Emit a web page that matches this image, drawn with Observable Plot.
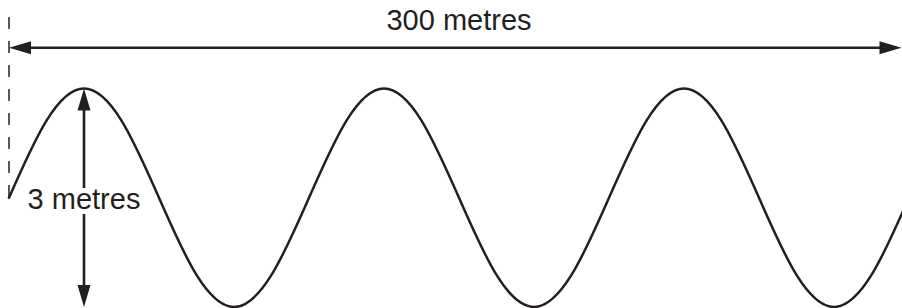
<!DOCTYPE html>
<html>
<head>
<meta charset="utf-8">
<script src="https://cdn.jsdelivr.net/npm/d3@7"></script>
<script src="https://cdn.jsdelivr.net/npm/@observablehq/plot@0.6"></script>
<style>
  html, body { margin: 0; padding: 0; background: #fff; overflow: hidden; }
  #chart { width: 902px; height: 308px; }
</style>
</head>
<body>
<div id="chart"></div>
<script>
// Wave: horizontal distance (metres) and height above mean level (metres)
const waveX = [0, 12.5, 25, 37.5, 50, 62.5, 75, 87.5, 100, 112.5, 125, 137.5, 150,
               162.5, 175, 187.5, 200, 212.5, 225, 237.5, 250, 262.5, 275, 287.5, 300];
const waveY = [0, 1.06, 1.5, 1.06, 0, -1.06, -1.5, -1.06, 0, 1.06, 1.5, 1.06, 0,
               -1.06, -1.5, -1.06, 0, 1.06, 1.5, 1.06, 0, -1.06, -1.5, -1.06, 0];

// Dimension arrows (metres)
const lengthArrowX = [0, 297.5];   // horizontal arrow ends
const lengthArrowY = 2.06;         // height of the horizontal arrow
const heightArrowX = 25;           // position of the vertical arrow (first crest)
const heightArrowY = [1.5, -1.5];  // crest and trough levels
const startLineY = [2.48, 0];      // dashed start marker

// Labels
const labelTexts = ["300 metres", "3 metres"];
const labelX = [150, 25];
const labelY = [2.3, -0.16];

const ink = "#231f20";
const font = "'Liberation Sans', Arial, Helvetica, sans-serif";

const wave = waveX.map((x, i) => ({x, y: waveY[i]}));
const labels = labelTexts.map((t, i) => ({text: t, x: labelX[i], y: labelY[i]}));

const arrows = [
  {x1: lengthArrowX[0], y1: lengthArrowY, x2: lengthArrowX[1], y2: lengthArrowY},
  {x1: heightArrowX, y1: heightArrowY[0], x2: heightArrowX, y2: heightArrowY[1]}
];
const heads = [
  {x: lengthArrowX[0], y: lengthArrowY, r: 180},
  {x: lengthArrowX[1], y: lengthArrowY, r: 0},
  {x: heightArrowX, y: heightArrowY[0], r: -90},
  {x: heightArrowX, y: heightArrowY[1], r: 90}
];

// filled arrowhead, tip at origin, pointing right
const headSymbol = {
  draw(context) {
    context.moveTo(0, 0);
    context.lineTo(-22, -6.5);
    context.lineTo(-22, 6.5);
    context.closePath();
  }
};

const chart = Plot.plot({
  width: 902,
  height: 308,
  marginTop: 0, marginRight: 0, marginBottom: 0, marginLeft: 0,
  style: {fontFamily: font, background: "#fff", color: ink},
  x: {domain: [0, 300], range: [8.5, 908.5], axis: null},
  y: {domain: [-1.5, 1.5], range: [306.5, 88], axis: null},
  marks: [
    Plot.link([{x: 0, y1: startLineY[0], y2: startLineY[1]}], {
      x1: "x", x2: "x", y1: "y1", y2: "y2",
      stroke: ink, strokeWidth: 1.5, strokeDasharray: "12,12"
    }),
    Plot.line(wave, {x: "x", y: "y", curve: "natural", stroke: ink, strokeWidth: 2.5, clip: true}),
    Plot.arrow(arrows, {
      x1: "x1", y1: "y1", x2: "x2", y2: "y2",
      stroke: ink, strokeWidth: 2.6, headLength: 0, insetStart: 12, insetEnd: 12
    }),
    Plot.dot(heads, {
      x: "x", y: "y", rotate: "r", symbol: headSymbol, r: 5,
      fill: ink, stroke: "none"
    }),
    Plot.text(labels, {
      x: "x", y: "y", text: "text", lineAnchor: "bottom", textAnchor: "middle",
      fontSize: 29, fontFamily: font, fill: ink,
      stroke: "#fff", strokeWidth: 10, strokeLinejoin: "round", paintOrder: "stroke"
    })
  ]
});

document.getElementById("chart").appendChild(chart);
</script>
</body>
</html>
